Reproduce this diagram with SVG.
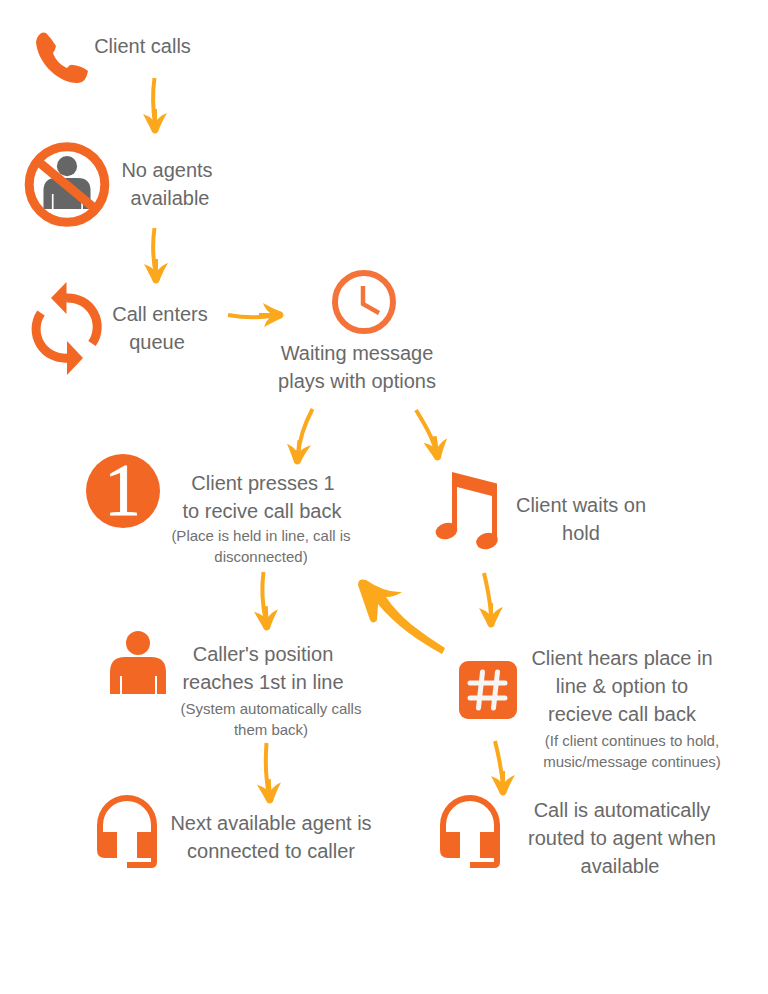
<svg xmlns="http://www.w3.org/2000/svg" xmlns:xlink="http://www.w3.org/1999/xlink" width="768" height="994" viewBox="0 0 768 994">
<style>
text{font-family:"Liberation Sans",Arial,sans-serif;fill:#696969;text-anchor:middle;font-size:20px}
text.s{font-size:15px;fill:#707070}
.o{fill:#f36724}
.shaft{fill:none;stroke:#fca81c;stroke-width:4;stroke-linecap:butt}
.head{fill:#fca81c}
</style>
<defs>
<path id="head" d="M-12,-19Q-6,-17-2,-13L-2,-24L2,-24L2,-13Q6,-18 12,-20C8,-13 5,-7 3,-1Q0,2-3,-1C-6,-8-9,-13-12,-19Z"/>
<g id="person"><circle cx="138" cy="643" r="12"/><path fill-rule="evenodd" d="M110,694V672Q110,657 125,657H151Q166,657 166,672V694H157V676H155V694H122V676H120V694Z"/></g>
<path id="headset" d="M97,832V825A30,30 0 0 1 157,825V862Q157,868 151,868H127V862H151V858H137V832H151V825A24,24 0 0 0 103,825V832H117V858H105Q97,858 97,850Z"/>
</defs>
<rect width="768" height="994" fill="#fff"/>
<g id="connectors">
<path class="shaft" d="M154.500,78C152,95 153,110 155,125"/><use xlink:href="#head" class="head" transform="translate(155,133)"/>
<path class="shaft" d="M154.500,228C152,245 153,260 156,275"/><use xlink:href="#head" class="head" transform="translate(156,283)"/>
<path class="shaft" d="M228,315C245,318 262,318 275,315"/><use xlink:href="#head" class="head" transform="translate(283,315) rotate(-90)"/>
<path class="shaft" d="M312.500,409C304,425 299,440 298,456"/><use xlink:href="#head" class="head" transform="translate(297,464) rotate(6)"/>
<path class="shaft" d="M416,410C425,425 433,438 436,452"/><use xlink:href="#head" class="head" transform="translate(438,460) rotate(-8)"/>
<path class="shaft" d="M263.500,572C261,590 263,608 266,622"/><use xlink:href="#head" class="head" transform="translate(267,630) rotate(-3)"/>
<path class="shaft" d="M484,573C488,590 491,605 491,619"/><use xlink:href="#head" class="head" transform="translate(491,627)"/>
<path class="shaft" d="M266.500,743C265,763 266,780 269,795"/><use xlink:href="#head" class="head" transform="translate(270,803) rotate(-3)"/>
<path class="shaft" d="M495,741C499,757 502,772 503,787"/><use xlink:href="#head" class="head" transform="translate(503,795)"/>
<path class="head" d="M445,648C420,632 400,618 386,597Q395,597 402,592Q385,593 366,580Q358,578 358,585L370,620Q373,625 377,620L378,604C395,625 420,642 442,654Z"/>
</g>
<g id="client-calls">
<path class="o" d="M37,38Q41,31 46,33Q52,39 56,46Q55,51 53,53C55,60 62,66 67,68Q70,64 73,65Q82,66 88,71Q86,83 78,83C62,84 38,66 36,42Z"/>
<text x="142.500" y="53">Client calls</text>
</g>
<g id="no-agents">
<use xlink:href="#person" fill="#666" transform="translate(67,209) scale(.84) translate(-138,-694)"/>
<circle cx="67" cy="184.500" r="37.800" fill="none" stroke="#f36724" stroke-width="9"/>
<path d="M40,163L93,207" stroke="#f36724" stroke-width="9" fill="none"/>
<text x="167" y="177">No agents</text><text x="170" y="205">available</text>
</g>
<g id="queue">
<path fill="none" stroke="#f36724" stroke-width="9" d="M66,298A29,29 0 0 1 92,343.500M68,358A29,29 0 0 1 41,313"/>
<path class="o" d="M66.500,282L51,298L66.500,314ZM67,341L83,358L67,375Z"/>
<text x="160" y="321">Call enters</text><text x="157" y="349">queue</text>
</g>
<g id="waiting">
<circle cx="364" cy="302" r="29" fill="none" stroke="#f4733a" stroke-width="6"/>
<path d="M363,286V304L379,313" fill="none" stroke="#f4733a" stroke-width="4.500"/>
<text x="357" y="360">Waiting message</text><text x="357" y="388">plays with options</text>
</g>
<g id="press-one">
<circle class="o" cx="123" cy="491" r="37"/>
<text x="122.500" y="515" style="font-family:'Liberation Serif',serif;font-size:74px;fill:#fff;stroke:#fff;stroke-width:.8">1</text>
<text x="263" y="490">Client presses 1</text><text x="262" y="518">to recive call back</text>
<text class="s" x="261" y="541">(Place is held in line, call is</text><text class="s" x="261" y="562">disconnected)</text>
</g>
<g id="waits-on-hold">
<path class="o" d="M452,472L497,483.500V541H492V496L457,487V531H452Z"/>
<ellipse class="o" cx="446.500" cy="531" rx="11" ry="8" transform="rotate(-15 446.500 531)"/>
<ellipse class="o" cx="487" cy="541" rx="11" ry="8" transform="rotate(-15 487 541)"/>
<text x="581" y="512">Client waits on</text><text x="581" y="540">hold</text>
</g>
<g id="position">
<use xlink:href="#person" class="o"/>
<text x="263" y="661">Caller's position</text><text x="263" y="689">reaches 1st in line</text>
<text class="s" x="271" y="714">(System automatically calls</text><text class="s" x="271" y="735">them back)</text>
</g>
<g id="hears-place">
<rect class="o" x="459" y="661" width="58" height="58" rx="9"/>
<path d="M470,683H505M470,698H505M482.500,672L478.500,708M497.500,672L493.500,708" stroke="#f5f5f5" stroke-width="5" stroke-linecap="round" fill="none"/>
<text x="622" y="665">Client hears place in</text><text x="622" y="693">line &amp; option to</text><text x="622" y="721">recieve call back</text>
<text class="s" x="632" y="746">(If client continues to hold,</text><text class="s" x="632" y="767">music/message continues)</text>
</g>
<g id="next-agent">
<use xlink:href="#headset" class="o"/>
<text x="271" y="830">Next available agent is</text><text x="271" y="858">connected to caller</text>
</g>
<g id="routed">
<use xlink:href="#headset" class="o" transform="translate(343,0)"/>
<text x="622" y="817">Call is automatically</text><text x="622" y="845">routed to agent when</text><text x="620" y="873">available</text>
</g>
</svg>
